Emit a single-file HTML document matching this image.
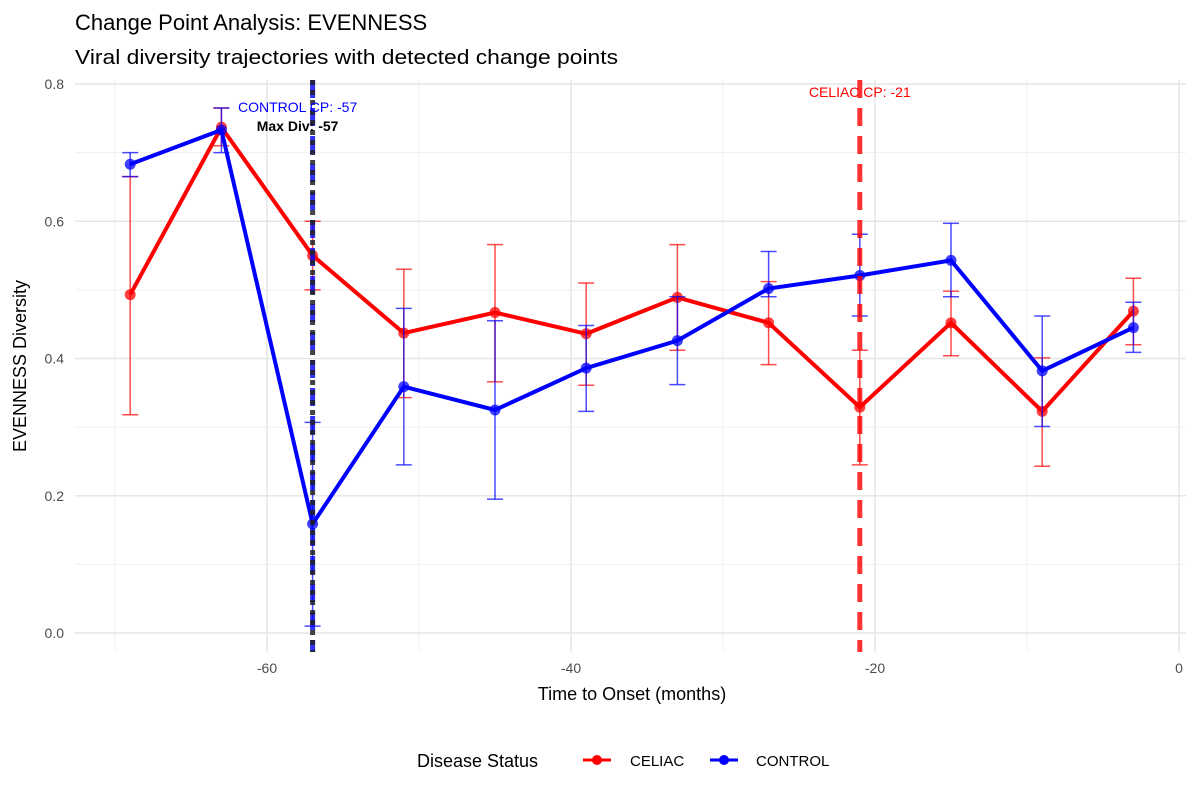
<!DOCTYPE html>
<html><head><meta charset="utf-8"><style>
body{margin:0;background:#fff;font-family:"Liberation Sans",sans-serif;}
svg text{font-family:"Liberation Sans",sans-serif;}
</style></head><body>
<svg id="chart" width="1200" height="800" xmlns="http://www.w3.org/2000/svg">
<text x="75" y="30" font-size="22" fill="#000">Change Point Analysis: EVENNESS</text>
<text x="75" y="64" font-size="20" textLength="543" lengthAdjust="spacingAndGlyphs" fill="#000">Viral diversity trajectories with detected change points</text>
<g id="grid"></g><g id="marks"></g>
<text x="632" y="700" font-size="18" text-anchor="middle">Time to Onset (months)</text>
<text transform="translate(26,366) rotate(-90)" font-size="18" text-anchor="middle">EVENNESS Diversity</text>
<g>
<text x="417" y="767" font-size="18">Disease Status</text>
<g><line x1="583" y1="760" x2="611" y2="760" stroke="red" stroke-width="3"/><circle cx="597" cy="760" r="5" fill="red"/><text x="630" y="766" font-size="15">CELIAC</text></g>
<g><line x1="710" y1="760" x2="738" y2="760" stroke="blue" stroke-width="3"/><circle cx="724" cy="760" r="5" fill="blue"/><text x="756" y="766" font-size="15">CONTROL</text></g>
</g>
</svg>
<script>
const months=[-69,-63,-57,-51,-45,-39,-33,-27,-21,-15,-9,-3];
const celiac=[0.493,0.737,0.550,0.437,0.467,0.436,0.489,0.452,0.329,0.452,0.323,0.469];
const celiacLo=[0.318,0.71,0.50,0.343,0.366,0.361,0.412,0.391,0.245,0.404,0.243,0.420];
const celiacHi=[0.665,0.765,0.60,0.530,0.566,0.510,0.566,0.512,0.412,0.498,0.401,0.517];
const control=[0.683,0.733,0.159,0.359,0.325,0.386,0.426,0.502,0.521,0.543,0.382,0.445];
const controlLo=[0.665,0.70,0.01,0.245,0.195,0.323,0.362,0.49,0.462,0.49,0.301,0.409];
const controlHi=[0.70,0.765,0.307,0.473,0.455,0.448,0.49,0.556,0.581,0.597,0.462,0.482];
const xTicks=[-60,-40,-20,0];
const yTicks=[0,0.2,0.4,0.6,0.8];
const yTickLabels=["0.0","0.2","0.4","0.6","0.8"];
const celiacCP=-21, controlCP=-57, maxDiv=-57;
const X=v=>1179+v*15.2, Y=v=>633-v*686.25;
const NS="http://www.w3.org/2000/svg";
function mk(tag,attrs,parent){const e=document.createElementNS(NS,tag);for(const k in attrs)e.setAttribute(k,attrs[k]);parent.appendChild(e);return e;}
const grid=document.getElementById('grid'), marks=document.getElementById('marks');
[-70,-50,-30,-10].forEach(v=>mk('line',{x1:X(v),x2:X(v),y1:80,y2:652,stroke:'#f0f0f0','stroke-width':1},grid));
[0.1,0.3,0.5,0.7].forEach(v=>mk('line',{x1:75,x2:1186,y1:Y(v),y2:Y(v),stroke:'#f0f0f0','stroke-width':1},grid));
xTicks.forEach(v=>{mk('line',{x1:X(v),x2:X(v),y1:80,y2:652,stroke:'#e6e6e6','stroke-width':1.5},grid);
 const t=mk('text',{x:X(v),y:673,'font-size':14,fill:'#4d4d4d','text-anchor':'middle'},grid);t.textContent=v;
 
 });
yTicks.forEach((v,i)=>{mk('line',{x1:75,x2:1186,y1:Y(v),y2:Y(v),stroke:'#e6e6e6','stroke-width':1.5},grid);
 const t=mk('text',{x:64,y:Y(v)+5,'font-size':14,fill:'#4d4d4d','text-anchor':'end'},grid);t.textContent=yTickLabels[i];
 
 });
function series(vals,lo,hi,color,name){
 const g=mk('g',{},marks);
 
 
 vals.forEach((v,i)=>{const x=X(months[i]);
  mk('line',{x1:x,x2:x,y1:Y(lo[i]),y2:Y(hi[i]),stroke:color,'stroke-width':1.5,opacity:0.7},g);
  mk('line',{x1:x-8,x2:x+8,y1:Y(lo[i]),y2:Y(lo[i]),stroke:color,'stroke-width':1.5,opacity:0.7},g);
  mk('line',{x1:x-8,x2:x+8,y1:Y(hi[i]),y2:Y(hi[i]),stroke:color,'stroke-width':1.5,opacity:0.7},g);});
 mk('polyline',{points:vals.map((v,i)=>X(months[i])+','+Y(v)).join(' '),fill:'none',stroke:color,'stroke-width':4},g);
 vals.forEach((v,i)=>{const c=mk('circle',{cx:X(months[i]),cy:Y(v),r:5.5,fill:color,opacity:0.75},g);
  
  });
}
series(celiac,celiacLo,celiacHi,'red','celiac');
series(control,controlLo,controlHi,'blue','control');
const l1=mk('line',{x1:X(celiacCP),x2:X(celiacCP),y1:80,y2:652,stroke:'red','stroke-width':5,'stroke-dasharray':'18,10',opacity:0.8},marks);


const l2=mk('line',{x1:X(controlCP),x2:X(controlCP),y1:80,y2:652,stroke:'blue','stroke-width':5,'stroke-dasharray':'18,10',opacity:0.8},marks);


const l3=mk('line',{x1:X(maxDiv),x2:X(maxDiv),y1:80,y2:652,stroke:'#222','stroke-width':5,'stroke-dasharray':'5,5',opacity:0.85},marks);


const t1=mk('text',{x:X(celiacCP),y:97,'font-size':14,fill:'red','text-anchor':'middle'},marks);t1.textContent='CELIAC CP: '+celiacCP;


const t2=mk('text',{x:X(controlCP)-15,y:112,'font-size':14,fill:'blue','text-anchor':'middle'},marks);t2.textContent='CONTROL CP: '+controlCP;


const t3=mk('text',{x:X(maxDiv)-15,y:131,'font-size':14,'font-weight':'bold',fill:'#000','text-anchor':'middle'},marks);t3.textContent='Max Div: '+maxDiv;


</script>
</body></html>
